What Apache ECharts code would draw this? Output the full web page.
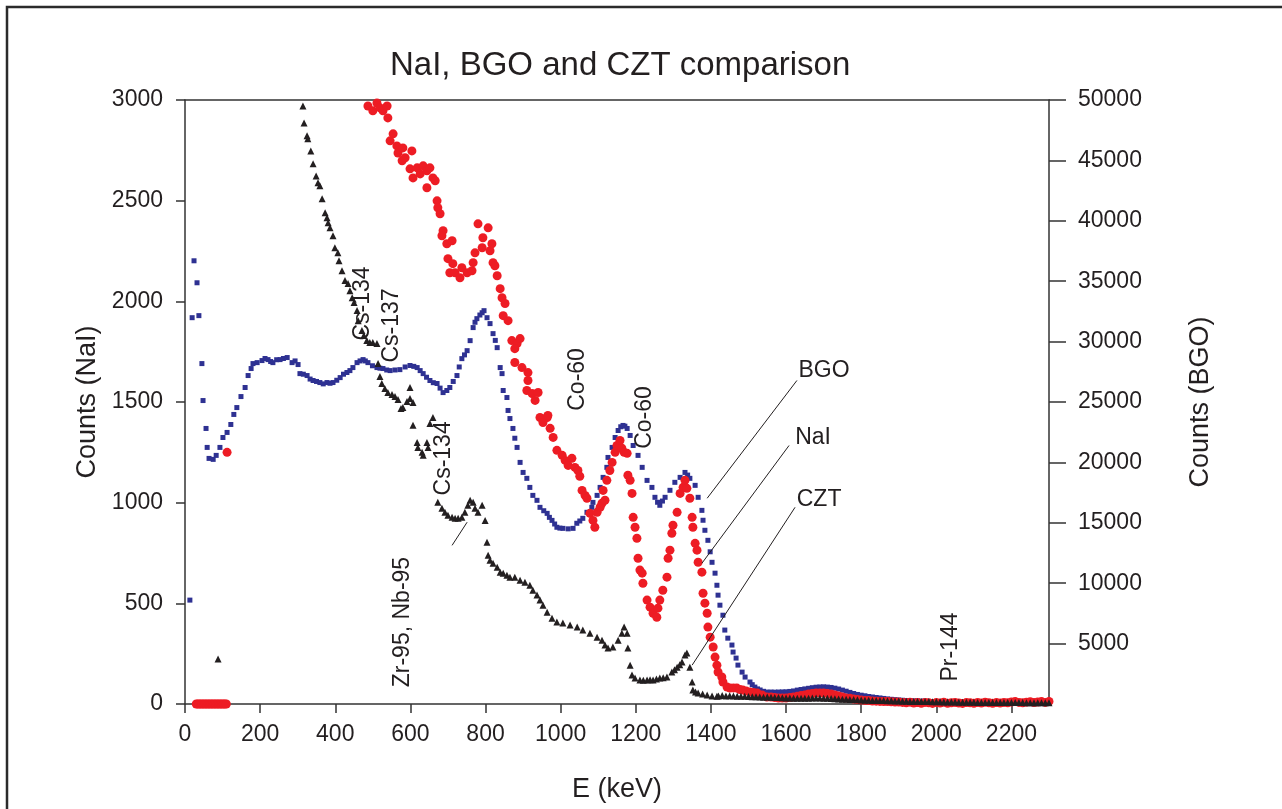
<!DOCTYPE html>
<html>
<head>
<meta charset="utf-8">
<script src="https://cdn.jsdelivr.net/npm/echarts@6/dist/echarts.min.js"></script>
<style>
html,body{margin:0;padding:0;background:#fff;}
#chart{width:1282px;height:809px;}
</style>
</head>
<body>
<div id="chart"></div>
<script>
// ---- Data (E in keV, counts) ----
const xTicks = [0,200,400,600,800,1000,1200,1400,1600,1800,2000,2200];
const leftTicks = [0,500,1000,1500,2000,2500,3000];
const rightTicks = [5000,10000,15000,20000,25000,30000,35000,40000,45000,50000];

// BGO counts (right axis)
const bgoData = [
[13,8600],[19,31980],[24,36690],[32,34870],[37,32150],[45,28180],[48,25120],[56,22810],[59,21240],[64,20330],
[75,20250],[83,20580],[93,21240],[101,22060],[112,22480],[122,23140],[130,23970],[138,24540],[149,25450],[160,26200],
[168,27190],[176,27770],[181,28180],[192,28260],[205,28430],[213,28600],[221,28510],[228,28350],[234,28260],[244,28500],[253,28510],
[262,28600],[272,28680],[285,28260],[293,28400],[301,28100],[306,27350],[315,27300],[325,27190],[333,26900],[341,26780],[350,26700],[359,26610],
[368,26500],[378,26610],[386,26550],[394,26610],[404,26800],[413,27020],[422,27300],[431,27440],[439,27600],[447,27850],[458,28260],[466,28400],
[474,28510],[480,28400],[487,28260],[499,28000],[511,27850],[519,27800],[527,27770],[537,27650],[546,27600],[559,27650],[572,27680],[586,27900],
[599,28020],[609,27950],[618,27850],[626,27600],[634,27350],[643,27050],[652,26780],[661,26600],[671,26530],[679,26150],[687,25780],[697,25950],
[705,26200],[714,26700],[724,27190],[730,27900],[737,28590],[744,28900],[751,29250],[759,30080],[767,31160],[772,31600],[777,31900],[785,32200],
[791,32390],[796,32560],[804,31980],[812,31490],[820,30660],[826,30100],[831,29500],[839,27850],[844,27350],[847,25950],[857,25370],
[860,24300],[865,23630],[873,22810],[878,22000],[884,21240],[892,20000],[900,19170],[910,18680],[918,17930],[926,17270],[937,16860],
[945,16280],[955,16000],[964,15780],[970,15450],[977,15200],[984,14900],[990,14630],[998,14560],[1006,14540],[1020,14500],[1033,14540],[1043,14960],
[1051,15150],[1059,15370],[1070,15870],[1083,16280],[1086,16690],[1097,17270],[1105,17930],[1113,18760],[1123,19590],[1126,20410],
[1137,21240],[1145,22060],[1153,22640],[1160,22950],[1166,23060],[1171,23000],[1177,22810],[1185,22230],[1193,21400],[1206,20580],[1217,19590],
[1230,18510],[1243,17930],[1251,17110],[1258,16700],[1264,16450],[1271,16800],[1278,17110],[1291,17690],[1304,18350],[1318,18760],[1331,19170],
[1338,18950],[1344,18680],[1358,18100],[1366,17110],[1376,16030],[1379,15210],[1384,14380],[1392,13550],[1398,12600],[1403,11730],[1411,10830],
[1416,9830],[1419,9010],[1424,8180],[1432,7350],[1437,6120],[1445,5450],[1456,4880],[1459,4300],[1467,3800],[1472,3220],
[1483,2640],[1491,2230],[1504,1820],[1510,1600],[1517,1400],[1524,1250],[1531,1160],[1540,1050],[1549,990],
[1560,990],[1570,980],[1580,990],[1590,1000],[1600,1010],[1610,1040],[1620,1080],[1630,1150],[1640,1200],[1650,1250],
[1660,1300],[1670,1350],[1680,1390],[1690,1410],[1700,1420],[1710,1400],[1720,1370],[1730,1310],[1740,1240],[1750,1150],
[1760,1060],[1770,960],[1780,870],[1790,790],[1800,730],[1810,680],[1820,620],[1830,580],[1840,540],[1850,500],
[1860,460],[1870,420],[1880,390],[1890,360],[1900,330],[1910,310],[1920,290],[1930,270],[1940,260],[1950,250],
[1960,240],[1970,230],[1980,210],[1990,200],[2000,190],[2010,185],[2020,180],[2030,190],[2040,175],[2050,180],
[2060,170],[2070,185],[2080,175],[2090,170],[2100,180],[2110,165],[2120,175],[2130,170],[2140,180],[2150,165],
[2160,170],[2170,175],[2180,165],[2190,170],[2200,160],[2210,175],[2220,165],[2230,170],[2240,160],[2250,170],
[2260,165],[2270,160],[2280,170],[2290,165],[2300,160]
];

// NaI counts (left axis)
const naiData = [
[30,0],[34,0],[38,0],[42,0],[46,0],[50,0],[54,0],[58,0],[62,0],[66,0],[70,0],[74,0],[78,0],[82,0],[86,0],[90,0],
[94,0],[98,0],[102,0],[106,0],[110,0],[112,1250],
[487,2970],[500,2946],[511,2985],[519,2961],[527,2946],[538,2970],[540,2911],[546,2797],[554,2832],[564,2772],
[567,2737],[578,2698],[580,2762],[586,2713],[599,2658],[604,2747],[607,2613],[618,2663],[626,2633],[634,2673],
[644,2564],[644,2648],[652,2663],[660,2613],[666,2599],[671,2499],[673,2465],[679,2435],[687,2351],[684,2326],
[697,2286],[711,2301],[700,2212],[713,2187],[705,2142],[719,2142],[732,2117],[737,2167],[751,2142],[764,2152],
[767,2192],[772,2241],[780,2385],[793,2316],[807,2365],[791,2266],[812,2251],[817,2286],[820,2192],[825,2177],
[831,2127],[839,2063],[844,2018],[852,1989],[847,1929],[860,1904],[870,1805],[884,1790],[892,1815],[878,1765],
[878,1696],[897,1671],[913,1646],[913,1607],[910,1557],[924,1542],[940,1547],[932,1508],[945,1423],[964,1423],
[953,1398],[966,1433],[972,1369],[980,1324],[990,1260],[1004,1235],[1012,1210],[1030,1220],[1020,1185],[1038,1175],
[1046,1160],[1051,1131],[1057,1061],[1065,1036],[1070,1022],[1078,947],[1086,912],[1091,878],[1097,952],[1105,977],
[1110,997],[1118,1012],[1113,1061],[1123,1111],[1131,1160],[1137,1200],[1145,1250],[1150,1284],[1158,1309],[1163,1270],
[1169,1250],[1177,1245],[1179,1136],[1185,1111],[1190,1046],[1193,927],[1198,878],[1203,823],[1206,724],[1211,665],
[1217,650],[1219,600],[1230,516],[1238,481],[1246,451],[1256,431],[1259,476],[1264,516],[1272,565],[1283,630],
[1286,724],[1291,764],[1296,848],[1299,888],[1310,952],[1318,1046],[1326,1076],[1331,1111],[1336,1071],[1344,1022],
[1350,927],[1352,878],[1358,798],[1363,764],[1366,704],[1376,655],[1379,550],[1384,501],[1390,451],[1392,382],
[1398,332],[1406,283],[1411,233],[1416,193],[1419,159],[1429,134],[1432,109],[1443,84],[1451,79],[1460,80],[1469,79],
[1477,72],[1485,69],[1494,64],[1504,60],[1513,57],[1523,55],[1536,45],[1549,35],
[1560,35],[1570,32],[1580,30],[1590,30],[1600,30],[1610,32],[1620,35],[1630,38],[1640,42],[1650,45],
[1660,50],[1670,52],[1680,55],[1690,55],[1700,55],[1710,52],[1720,50],[1730,45],[1740,40],[1750,35],
[1760,30],[1770,28],[1780,25],[1790,22],[1800,20],[1810,18],[1820,17],[1830,15],[1840,14],[1850,13],
[1860,12],[1870,12],[1880,11],[1890,10],[1900,10],[1910,8],[1920,6],[1930,9],[1940,5],[1950,7],
[1960,4],[1970,8],[1980,6],[1990,3],[2000,7],[2010,5],[2020,9],[2030,4],[2040,6],[2050,8],
[2060,5],[2070,3],[2080,7],[2090,6],[2100,4],[2110,8],[2120,5],[2130,9],[2140,6],[2150,4],
[2160,7],[2170,5],[2180,8],[2190,6],[2200,10],[2210,12],[2220,8],[2230,6],[2240,9],[2250,11],
[2260,7],[2270,10],[2280,12],[2290,8],[2300,13]
];

// CZT counts (left axis)
const cztData = [
[88,223],
[314,2970],[317,2886],[325,2822],[327,2807],[335,2747],[341,2683],[349,2623],[354,2589],[359,2574],[365,2509],
[373,2440],[378,2415],[381,2390],[386,2365],[394,2326],[399,2266],[407,2241],[410,2202],[418,2152],[426,2103],
[434,2088],[439,2053],[445,2018],[450,1994],[458,1954],[461,1904],[471,1855],[476,1830],[484,1805],[492,1795],
[500,1795],[511,1790],[514,1691],[519,1627],[524,1592],[532,1567],[540,1547],[551,1537],[559,1527],[567,1513],
[575,1468],[580,1473],[591,1503],[599,1572],[599,1517],[607,1498],[607,1384],[618,1299],[620,1274],[631,1250],
[634,1235],[644,1299],[647,1274],[652,1393],[660,1423],
[673,1002],[684,972],[692,952],[700,937],[711,927],[719,922],[727,922],[737,927],[745,952],[753,987],
[759,1012],[767,1002],[772,972],[780,952],[791,987],[799,912],[804,803],[807,739],[812,714],[820,699],
[831,679],[839,655],[847,650],[857,640],[865,630],[878,630],[892,615],[905,605],[918,590],[926,565],
[937,541],[945,516],[953,491],[964,456],[977,426],[990,407],[1006,402],[1025,392],[1044,382],[1059,367],
[1078,352],[1097,332],[1110,317],[1118,293],[1126,278],[1139,283],[1153,317],[1163,352],[1169,382],[1177,352],
[1179,278],[1185,193],[1190,144],[1198,129],[1211,119],[1220,118],[1230,119],[1238,120],[1246,119],[1255,124],[1264,129],
[1273,131],[1283,134],[1296,159],[1303,170],[1310,183],[1317,195],[1323,208],[1331,243],[1336,253],[1344,183],[1350,109],
[1352,69],[1359,60],[1366,55],[1378,50],[1390,45],[1403,40],[1416,38],
[1420,40],[1430,42],[1440,40],[1450,41],[1460,40],[1470,38],[1480,39],[1490,38],[1500,37],[1510,36],
[1520,36],[1530,35],[1540,34],[1550,35],[1560,33],[1570,32],[1580,32],[1590,31],[1600,30],[1610,30],
[1620,29],[1630,29],[1640,28],[1650,28],[1660,29],[1670,30],[1680,30],[1690,30],[1700,29],[1710,28],
[1720,27],[1730,26],[1740,25],[1750,24],[1760,23],[1770,22],[1780,22],[1790,21],[1800,20],[1810,19],
[1820,19],[1830,18],[1840,18],[1850,17],[1860,17],[1870,16],[1880,16],[1890,15],[1900,15],[1910,14],
[1920,14],[1930,13],[1940,13],[1950,13],[1960,12],[1970,12],[1980,12],[1990,11],[2000,11],[2010,11],
[2020,10],[2030,10],[2040,10],[2050,10],[2060,9],[2070,9],[2080,9],[2090,9],[2100,9],[2110,8],
[2120,8],[2130,8],[2140,8],[2150,8],[2160,8],[2170,7],[2180,7],[2190,7],[2200,7],[2210,7],
[2220,7],[2230,7],[2240,6],[2250,6],[2260,6],[2270,6],[2280,6],[2290,6],[2300,6]
];

// Annotations: [text, E, leftAxisValue, rotated]
const peakLabels = [
['Cs-134',474,1989,true],
['Cs-137',551,1880,true],
['Cs-134',689,1220,true],
['Zr-95, Nb-95',580,407,true],
['Co-60',1044,1612,true],
['Co-60',1224,1423,true],
['Pr-144',2039,283,true],
['BGO',1701,1655,false],
['NaI',1672,1324,false],
['CZT',1688,1017,false]
];
// Leader lines: [E1,V1,E2,V2] on left axis
const leaderLines = [
[1629,1607,1390,1022],
[1608,1284,1376,699],
[1624,977,1350,193],
[751,903,711,788]
];

const FONT = '"Liberation Sans", Arial, Helvetica, sans-serif';
const INK = '#231f20';
const AXC = '#333333';
const plain = function (v) { return String(v); };

const chart = echarts.init(document.getElementById('chart'), null, {renderer:'canvas'});

const option = {
  animation: false,
  backgroundColor: '#ffffff',
  textStyle: {fontFamily: FONT, color: INK},
  title: {
    text: 'NaI, BGO and CZT comparison',
    left: 385, top: 44,
    textStyle: {fontFamily: FONT, fontSize: 33, fontWeight: 'normal', color: INK}
  },
  grid: {left: 185, right: 233, top: 100, bottom: 105, containLabel: false},
  xAxis: [{
    type: 'value', min: 0, max: 2300, interval: 200,
    name: 'E (keV)', nameLocation: 'middle', nameGap: 72,
    nameTextStyle: {fontFamily: FONT, fontSize: 27, color: INK},
    axisLine: {show: true, onZero: false, lineStyle: {color: AXC, width: 1.5}},
    axisTick: {show: true, inside: false, length: 9, lineStyle: {color: AXC, width: 1.5}, customValues: xTicks},
    axisLabel: {fontFamily: FONT, fontSize: 23, color: INK, margin: 19, customValues: xTicks, formatter: plain},
    splitLine: {show: false}
  },{
    type: 'value', min: 0, max: 2300, position: 'top',
    axisLine: {show: true, onZero: false, lineStyle: {color: AXC, width: 1.5}},
    axisTick: {show: false}, axisLabel: {show: false}, splitLine: {show: false}
  }],
  yAxis: [{
    type: 'value', min: 0, max: 3000, interval: 500, position: 'left',
    name: 'Counts (NaI)', nameLocation: 'middle', nameGap: 72,
    nameTextStyle: {fontFamily: FONT, fontSize: 27, color: INK},
    axisLine: {show: true, onZero: false, lineStyle: {color: AXC, width: 1.5}},
    axisTick: {show: true, inside: false, length: 9, lineStyle: {color: AXC, width: 1.5}, customValues: leftTicks},
    axisLabel: {fontFamily: FONT, fontSize: 23, color: INK, margin: 22, customValues: leftTicks, formatter: plain},
    splitLine: {show: false}
  },{
    type: 'value', min: 0, max: 50000, interval: 5000, position: 'right',
    name: 'Counts (BGO)', nameLocation: 'middle', nameGap: 138,
    nameTextStyle: {fontFamily: FONT, fontSize: 27, color: INK},
    axisLine: {show: true, onZero: false, lineStyle: {color: AXC, width: 1.5}},
    axisTick: {show: true, inside: false, length: 17, lineStyle: {color: AXC, width: 1.5}, customValues: rightTicks},
    axisLabel: {fontFamily: FONT, fontSize: 23, color: INK, margin: 29, customValues: rightTicks, formatter: plain},
    splitLine: {show: false}
  }],
  series: [{
    name: 'BGO', type: 'scatter', xAxisIndex: 0, yAxisIndex: 1,
    symbol: 'rect', symbolSize: 5, data: bgoData,
    itemStyle: {color: '#2e3192', opacity: 1}
  },{
    name: 'NaI', type: 'scatter', xAxisIndex: 0, yAxisIndex: 0,
    symbol: 'circle', symbolSize: 9, data: naiData,
    itemStyle: {color: '#ed1c24', opacity: 1}
  },{
    name: 'CZT', type: 'scatter', xAxisIndex: 0, yAxisIndex: 0,
    symbol: 'triangle', symbolSize: [7,7], data: cztData,
    itemStyle: {color: INK, opacity: 1}
  }]
};
chart.setOption(option);

// Place annotations via the chart's own scales
const gfx = [{
  type: 'rect', silent: true, z: 100,
  shape: {x: 7, y: 7, width: 1500, height: 1000},
  style: {fill: 'none', stroke: '#2b2b2b', lineWidth: 2.5}
}];
peakLabels.forEach(function (p) {
  const pt = chart.convertToPixel({xAxisIndex: 0, yAxisIndex: 0}, [p[1], p[2]]);
  gfx.push({
    type: 'text', silent: true, z: 50,
    x: pt[0], y: pt[1], rotation: p[3] ? Math.PI / 2 : 0,
    style: {text: p[0], fontFamily: FONT, fontSize: 23, fill: INK, align: 'center', verticalAlign: 'middle'}
  });
});
leaderLines.forEach(function (l) {
  const a = chart.convertToPixel({xAxisIndex: 0, yAxisIndex: 0}, [l[0], l[1]]);
  const b = chart.convertToPixel({xAxisIndex: 0, yAxisIndex: 0}, [l[2], l[3]]);
  gfx.push({
    type: 'line', silent: true, z: 50,
    shape: {x1: a[0], y1: a[1], x2: b[0], y2: b[1]},
    style: {stroke: INK, lineWidth: 1}
  });
});
chart.setOption({graphic: gfx});
</script>
</body>
</html>
